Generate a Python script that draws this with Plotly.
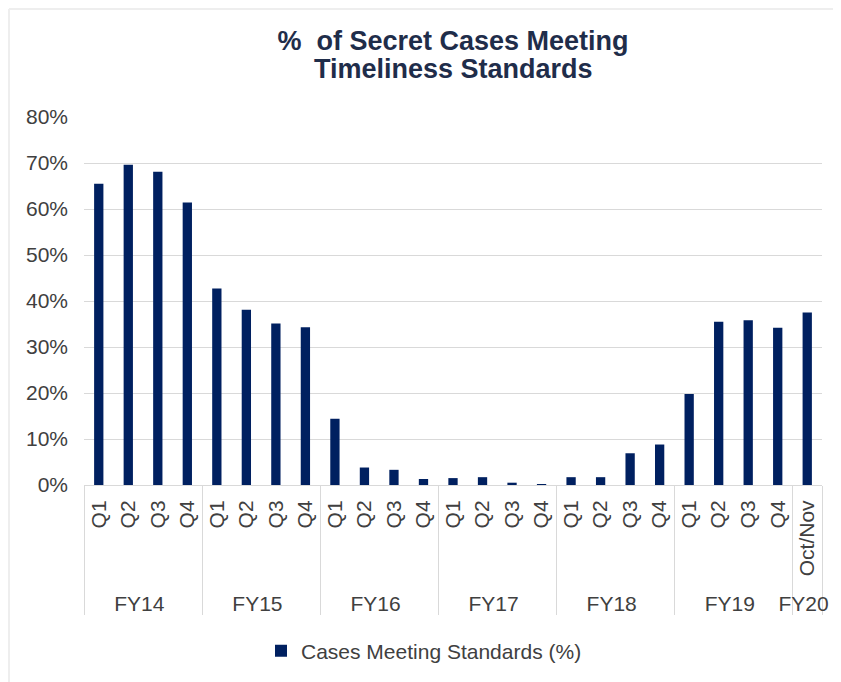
import plotly.graph_objects as go

fiscal_years = ["FY14"] * 4 + ["FY15"] * 4 + ["FY16"] * 4 + ["FY17"] * 4 + ["FY18"] * 4 + ["FY19"] * 4 + ["FY20"]
periods = ["Q1", "Q2", "Q3", "Q4"] * 6 + ["Oct/Nov"]
pct_meeting = [
    65.5, 69.6, 68.1, 61.4,
    42.7, 38.1, 35.1, 34.3,
    14.4, 3.8, 3.3, 1.3,
    1.5, 1.7, 0.5, 0.2,
    1.7, 1.7, 6.9, 8.8,
    19.8, 35.5, 35.8, 34.2,
    37.5,
]
y_ticks = [0, 10, 20, 30, 40, 50, 60, 70, 80]
y_tick_labels = [f"{v}%" for v in y_ticks]
title_lines = ["%  of Secret Cases Meeting", "Timeliness Standards"]

NAVY = "#002060"
TEXT = "#404040"
TITLE = "#1F2D4A"
GRID = "#D9D9D9"
FONT = "Arial, Liberation Sans, sans-serif"

W, H = 841, 682
ML, MT = 76, 109
PW, PH = 738, 368
MR = W - ML - PW
MB = H - MT - PH


def px_to_paper_x(px):
    return (px - ML) / PW


def px_to_paper_y(py):
    return (MT + PH - py) / PH


fig = go.Figure()
fig.add_trace(go.Bar(
    x=[fiscal_years, periods],
    y=pct_meeting,
    name="Cases Meeting Standards (%)",
    marker=dict(color=NAVY, line=dict(width=0)),
    showlegend=True,
))

fig.update_layout(
    width=W, height=H,
    paper_bgcolor="white", plot_bgcolor="white",
    margin=dict(l=ML, r=MR, t=MT, b=MB, autoexpand=False),
    bargap=0.685,
    font=dict(family=FONT, color=TEXT, size=21),
    title=dict(
        text=f"<b>{title_lines[0]}</b>",
        x=0.5, xref="paper", xanchor="center",
        yref="container", y=1 - 33 / H, yanchor="middle",
        font=dict(size=27, color=TITLE, family=FONT),
    ),
    annotations=[dict(
        text=f"<b>{title_lines[1]}</b>",
        xref="paper", x=0.5, xanchor="center",
        yref="paper", y=px_to_paper_y(61), yanchor="middle",
        showarrow=False,
        font=dict(size=27, color=TITLE, family=FONT),
    )],
    legend=dict(
        orientation="h", xref="container", x=416 / W, xanchor="center",
        yref="container", y=1 - 643 / H, yanchor="middle",
        font=dict(size=21, color=TEXT), itemwidth=30,
    ),
    xaxis=dict(
        type="multicategory",
        tickangle=-90,
        showgrid=False,
        showline=True, linecolor=GRID, linewidth=1,
        showdividers=True, dividercolor=GRID, dividerwidth=1,
        tickfont=dict(size=21, color=TEXT),
        ticks="",
        ticklabelstandoff=6,
        automargin=False,
    ),
    yaxis=dict(
        range=[0, 80],
        tickvals=y_ticks, ticktext=y_tick_labels,
        showgrid=True, gridcolor=GRID, gridwidth=1,
        zeroline=False,
        tickfont=dict(size=21, color=TEXT),
        ticklabelstandoff=15,
        automargin=False,
    ),
    shapes=[
        dict(type="line", xref="paper", yref="paper",
             x0=px_to_paper_x(1), x1=px_to_paper_x(W), y0=px_to_paper_y(1), y1=px_to_paper_y(1),
             line=dict(color="#EEEEEE", width=2)),
        dict(type="line", xref="paper", yref="paper",
             x0=px_to_paper_x(1), x1=px_to_paper_x(1), y0=px_to_paper_y(H), y1=px_to_paper_y(1),
             line=dict(color="#EEEEEE", width=2)),
    ],
)

fig.write_html("out.html")
